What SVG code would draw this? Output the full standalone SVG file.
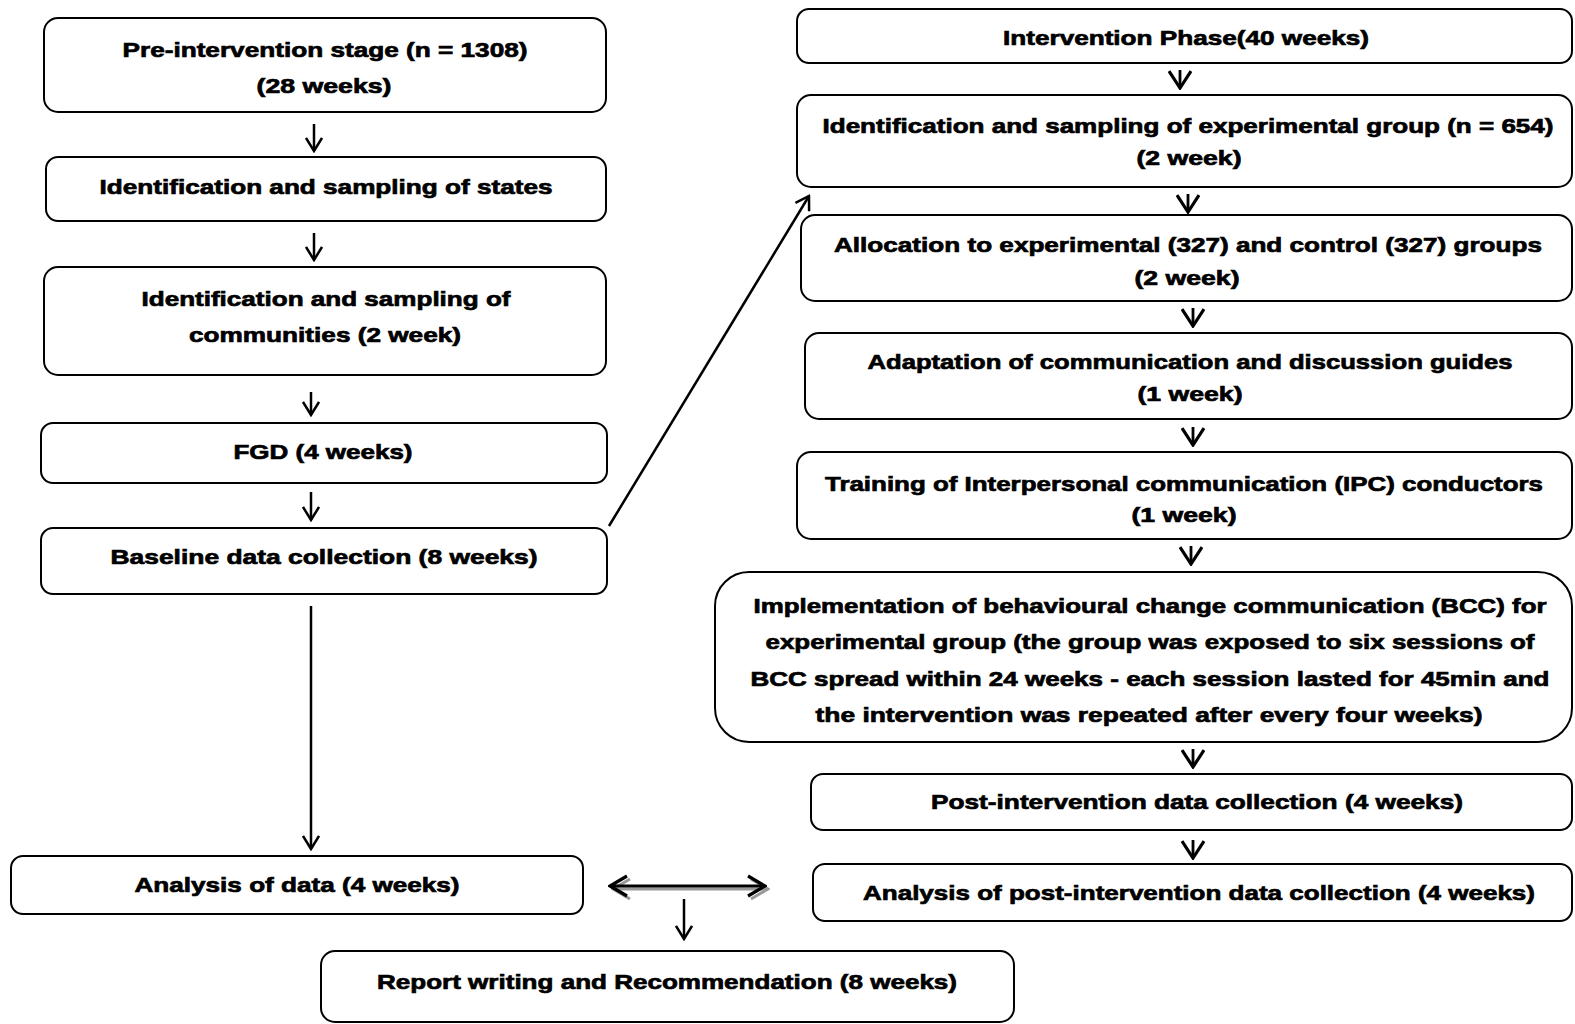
<svg xmlns="http://www.w3.org/2000/svg" width="1575" height="1024" viewBox="0 0 1575 1024">
<defs>
<style>
.box{fill:#fff;stroke:#000;stroke-width:2}
.t{font-family:"Liberation Sans",Arial,sans-serif;font-weight:bold;font-size:21px;fill:#000;stroke:#000;stroke-width:0.7;text-anchor:middle}
.c{stroke:#000;stroke-width:2.5;fill:none}
.cv{stroke:#000;stroke-width:2.8;fill:none}
</style>
<marker id="open" markerUnits="userSpaceOnUse" viewBox="0 0 16 18" refX="14" refY="9" markerWidth="16" markerHeight="18" orient="auto-start-reverse">
<path d="M1,1 L14,9 L1,17" fill="none" stroke="#000" stroke-width="2.5"/>
</marker>
<marker id="vee" markerUnits="userSpaceOnUse" viewBox="0 0 20 24" refX="18" refY="12" markerWidth="20" markerHeight="24" orient="auto">
<path d="M1,1 L18,12 L1,23" fill="none" stroke="#000" stroke-width="3.2"/>
</marker>
<marker id="dbl" markerUnits="userSpaceOnUse" viewBox="0 0 20 24" refX="18" refY="12" markerWidth="20" markerHeight="24" orient="auto-start-reverse">
<path d="M1,2 L18,12 L1,22" fill="none" stroke="#000" stroke-width="3.2"/>
</marker>
<marker id="dblg" markerUnits="userSpaceOnUse" viewBox="0 0 20 24" refX="18" refY="12" markerWidth="20" markerHeight="24" orient="auto-start-reverse">
<path d="M1,2 L18,12 L1,22" fill="none" stroke="#999" stroke-width="3"/>
</marker>
</defs>
<rect width="1575" height="1024" fill="#fff"/>

<g id="connectors">
<line class="c" x1="314" y1="124" x2="314" y2="151" marker-end="url(#open)"/>
<line class="c" x1="314" y1="233" x2="314" y2="260" marker-end="url(#open)"/>
<line class="c" x1="311" y1="392" x2="311" y2="415" marker-end="url(#open)"/>
<line class="c" x1="311" y1="492" x2="311" y2="520" marker-end="url(#open)"/>
<line class="c" x1="311" y1="606" x2="311" y2="849" marker-end="url(#open)"/>
<line class="c" x1="609" y1="526" x2="809" y2="196" marker-end="url(#open)"/>
<line class="cv" x1="1180" y1="70" x2="1180" y2="88" marker-end="url(#vee)"/>
<line class="cv" x1="1188" y1="194" x2="1188" y2="212" marker-end="url(#vee)"/>
<line class="cv" x1="1193" y1="308" x2="1193" y2="326" marker-end="url(#vee)"/>
<line class="cv" x1="1193" y1="427" x2="1193" y2="445" marker-end="url(#vee)"/>
<line class="cv" x1="1191" y1="546" x2="1191" y2="564" marker-end="url(#vee)"/>
<line class="cv" x1="1193" y1="749" x2="1193" y2="767" marker-end="url(#vee)"/>
<line class="cv" x1="1193" y1="840" x2="1193" y2="858" marker-end="url(#vee)"/>
<line x1="613" y1="889" x2="768" y2="889" stroke="#999" stroke-width="3" marker-start="url(#dblg)" marker-end="url(#dblg)"/>
<line x1="610" y1="886" x2="765" y2="886" stroke="#000" stroke-width="2.8" marker-start="url(#dbl)" marker-end="url(#dbl)"/>
<line class="c" x1="684" y1="899" x2="684" y2="939" marker-end="url(#open)"/>
</g>

<g id="n1"><rect class="box" x="44" y="18" width="562" height="94" rx="14"/>
<text class="t" x="325" y="57" textLength="405" lengthAdjust="spacingAndGlyphs">Pre-intervention stage (n = 1308)</text>
<text class="t" x="324" y="93" textLength="135" lengthAdjust="spacingAndGlyphs">(28 weeks)</text></g>

<g id="n2"><rect class="box" x="46" y="157" width="560" height="64" rx="12"/>
<text class="t" x="326" y="194" textLength="453" lengthAdjust="spacingAndGlyphs">Identification and sampling of states</text></g>

<g id="n3"><rect class="box" x="44" y="267" width="562" height="108" rx="14"/>
<text class="t" x="326" y="306" textLength="369" lengthAdjust="spacingAndGlyphs">Identification and sampling of</text>
<text class="t" x="325" y="342" textLength="272" lengthAdjust="spacingAndGlyphs">communities (2 week)</text></g>

<g id="n4"><rect class="box" x="41" y="423" width="566" height="60" rx="12"/>
<text class="t" x="323" y="459" textLength="179" lengthAdjust="spacingAndGlyphs">FGD (4 weeks)</text></g>

<g id="n5"><rect class="box" x="41" y="528" width="566" height="66" rx="12"/>
<text class="t" x="324" y="564" textLength="427" lengthAdjust="spacingAndGlyphs">Baseline data collection (8 weeks)</text></g>

<g id="n6"><rect class="box" x="11" y="856" width="572" height="58" rx="12"/>
<text class="t" x="297" y="892" textLength="325" lengthAdjust="spacingAndGlyphs">Analysis of data (4 weeks)</text></g>

<g id="n7"><rect class="box" x="321" y="951" width="693" height="71" rx="14"/>
<text class="t" x="667" y="989" textLength="580" lengthAdjust="spacingAndGlyphs">Report writing and Recommendation (8 weeks)</text></g>

<g id="r1"><rect class="box" x="797" y="9" width="775" height="54" rx="12"/>
<text class="t" x="1186" y="45" textLength="366" lengthAdjust="spacingAndGlyphs">Intervention Phase(40 weeks)</text></g>

<g id="r2"><rect class="box" x="797" y="95" width="775" height="92" rx="14"/>
<text class="t" x="1188" y="133" textLength="731" lengthAdjust="spacingAndGlyphs">Identification and sampling of experimental group (n = 654)</text>
<text class="t" x="1189" y="165" textLength="105" lengthAdjust="spacingAndGlyphs">(2 week)</text></g>

<g id="r3"><rect class="box" x="801" y="215" width="771" height="86" rx="14"/>
<text class="t" x="1188" y="252" textLength="708" lengthAdjust="spacingAndGlyphs">Allocation to experimental (327) and control (327) groups</text>
<text class="t" x="1187" y="285" textLength="105" lengthAdjust="spacingAndGlyphs">(2 week)</text></g>

<g id="r4"><rect class="box" x="805" y="333" width="767" height="86" rx="14"/>
<text class="t" x="1190" y="369" textLength="645" lengthAdjust="spacingAndGlyphs">Adaptation of communication and discussion guides</text>
<text class="t" x="1190" y="401" textLength="105" lengthAdjust="spacingAndGlyphs">(1 week)</text></g>

<g id="r5"><rect class="box" x="797" y="452" width="775" height="87" rx="14"/>
<text class="t" x="1184" y="491" textLength="718" lengthAdjust="spacingAndGlyphs">Training of Interpersonal communication (IPC) conductors</text>
<text class="t" x="1184" y="522" textLength="105" lengthAdjust="spacingAndGlyphs">(1 week)</text></g>

<g id="r6"><rect class="box" x="715" y="572" width="857" height="170" rx="34"/>
<text class="t" x="1150" y="613" textLength="793" lengthAdjust="spacingAndGlyphs">Implementation of behavioural change communication (BCC) for</text>
<text class="t" x="1150" y="649" textLength="769" lengthAdjust="spacingAndGlyphs">experimental group (the group was exposed to six sessions of</text>
<text class="t" x="1150" y="686" textLength="799" lengthAdjust="spacingAndGlyphs">BCC spread within 24 weeks - each session lasted for 45min and</text>
<text class="t" x="1149" y="722" textLength="667" lengthAdjust="spacingAndGlyphs">the intervention was repeated after every four weeks)</text></g>

<g id="r7"><rect class="box" x="811" y="774" width="761" height="56" rx="12"/>
<text class="t" x="1197" y="809" textLength="532" lengthAdjust="spacingAndGlyphs">Post-intervention data collection (4 weeks)</text></g>

<g id="r8"><rect class="box" x="813" y="864" width="759" height="57" rx="12"/>
<text class="t" x="1199" y="900" textLength="672" lengthAdjust="spacingAndGlyphs">Analysis of post-intervention data collection (4 weeks)</text></g>
</svg>
